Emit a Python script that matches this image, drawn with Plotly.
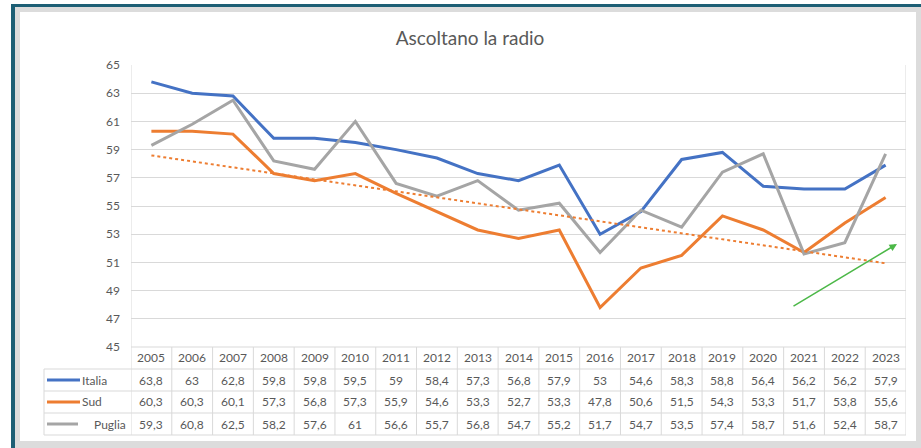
import numpy as np
import plotly.graph_objects as go

years = [2005, 2006, 2007, 2008, 2009, 2010, 2011, 2012, 2013, 2014,
         2015, 2016, 2017, 2018, 2019, 2020, 2021, 2022, 2023]
italia = [63.8, 63, 62.8, 59.8, 59.8, 59.5, 59, 58.4, 57.3, 56.8,
          57.9, 53, 54.6, 58.3, 58.8, 56.4, 56.2, 56.2, 57.9]
sud = [60.3, 60.3, 60.1, 57.3, 56.8, 57.3, 55.9, 54.6, 53.3, 52.7,
       53.3, 47.8, 50.6, 51.5, 54.3, 53.3, 51.7, 53.8, 55.6]
puglia = [59.3, 60.8, 62.5, 58.2, 57.6, 61, 56.6, 55.7, 56.8, 54.7,
          55.2, 51.7, 54.7, 53.5, 57.4, 58.7, 51.6, 52.4, 58.7]
series_names = ["Italia", "Sud", "Puglia"]
series_vals = [italia, sud, puglia]
series_colors = ["#4472C4", "#ED7D31", "#A5A5A5"]
y_ticks = [45, 47, 49, 51, 53, 55, 57, 59, 61, 63, 65]
title_text = "Ascoltano la radio"

W, H = 921, 448
L, R, T, B = 131, 906, 65, 347
FONT = "Lato"
TXT = "#595959"
GRID = "#d9d9d9"


def px(x):
    return (x - L) / (R - L)


def py(y):
    return (B - y) / (B - T)


xi = list(range(len(years)))
fig = go.Figure()

for name, vals, col in zip(series_names, series_vals, series_colors):
    fig.add_trace(go.Scatter(x=xi, y=vals, mode="lines", name=name,
                             line=dict(color=col, width=3)))

# linear trendline of Sud (as Excel)
coef = np.polyfit(xi, sud, 1)
trend = np.polyval(coef, xi)
fig.add_trace(go.Scatter(x=xi, y=trend, mode="lines", name="Lineare (Sud)",
                         line=dict(color="#ED7D31", width=2, dash="dot")))

shapes = []


def rect(x0, y0, x1, y1, color):
    shapes.append(dict(type="rect", xref="paper", yref="paper",
                       x0=px(x0), x1=px(x1), y0=py(y1), y1=py(y0),
                       fillcolor=color, line=dict(width=0), layer="below"))


rect(11, 4, 921, 448, "#1d5f75")
rect(15, 7, 921, 448, "#dcdcdc")
rect(20, 12, 916, 441, "#ffffff")


def hline(x0, x1, y, color=GRID, width=1):
    shapes.append(dict(type="line", xref="paper", yref="paper",
                       x0=px(x0), x1=px(x1), y0=py(y), y1=py(y),
                       line=dict(color=color, width=width)))


rows_y = [347, 369, 391, 413, 435]
hline(L, R, rows_y[0])
for yy in rows_y[1:]:
    hline(44, R, yy)
for k in range(len(years) + 1):
    top = T if k in (0, len(years)) else B
    shapes.append(dict(type="line", xref="x", yref="paper",
                       x0=k - 0.5, x1=k - 0.5, y0=py(rows_y[-1]), y1=py(top),
                       line=dict(color=GRID, width=1)))
shapes.append(dict(type="line", xref="paper", yref="paper",
                   x0=px(44), x1=px(44), y0=py(rows_y[1]), y1=py(rows_y[-1]),
                   line=dict(color=GRID, width=1)))

annotations = []


def fmt(v):
    return ("%g" % v).replace(".", ",")


def txt(x, y, text, xref="x", xanchor="center"):
    annotations.append(dict(x=x, y=y, xref=xref, yref="paper", text=text,
                            showarrow=False, xanchor=xanchor, yanchor="middle",
                            font=dict(family=FONT, size=12, color=TXT)))


header_y = (rows_y[0] + rows_y[1]) / 2
for i, yr in enumerate(years):
    txt(i, py(header_y), str(yr))
for r, (name, vals, col) in enumerate(zip(series_names, series_vals, series_colors)):
    cy = (rows_y[r + 1] + rows_y[r + 2]) / 2
    for i, v in enumerate(vals):
        txt(i, py(cy), fmt(v))
    x_end = 80 if r < 2 else 78
    shapes.append(dict(type="line", xref="paper", yref="paper",
                       x0=px(47), x1=px(x_end), y0=py(cy), y1=py(cy),
                       line=dict(color=col, width=3)))
    if r < 2:
        txt(px(80), py(cy), name, xref="paper", xanchor="left")
    else:
        txt(px(128), py(cy), name, xref="paper", xanchor="right")

# green arrow
annotations.append(dict(x=px(897), y=py(244), xref="paper", yref="paper",
                        ax=792 - 897, ay=307 - 244, text="", showarrow=True,
                        arrowhead=2, arrowsize=1, arrowwidth=1.5,
                        arrowcolor="#4cb848"))

fig.update_layout(
    width=W, height=H,
    margin=dict(l=L, r=W - R, t=T, b=H - B),
    paper_bgcolor="#ffffff",
    plot_bgcolor="rgba(0,0,0,0)",
    showlegend=False,
    title=dict(text=title_text, x=px(470), xref="paper", xanchor="center",
               y=1 - 38 / H, yref="container", yanchor="middle",
               font=dict(family=FONT, size=19, color=TXT)),
    xaxis=dict(range=[-0.5, len(years) - 0.5], showgrid=False, zeroline=False,
               showticklabels=False, showline=False, fixedrange=True),
    yaxis=dict(range=[45, 65], tickvals=y_ticks, showgrid=True, gridcolor=GRID,
               gridwidth=1, zeroline=False, showline=False, ticks="",
               ticklabelstandoff=10,
               tickfont=dict(family=FONT, size=12, color=TXT)),
    shapes=shapes,
    annotations=annotations,
)

fig.write_html("out.html", config={"displayModeBar": False},
               post_script="document.body.style.margin='0';document.body.style.overflow='hidden';")
